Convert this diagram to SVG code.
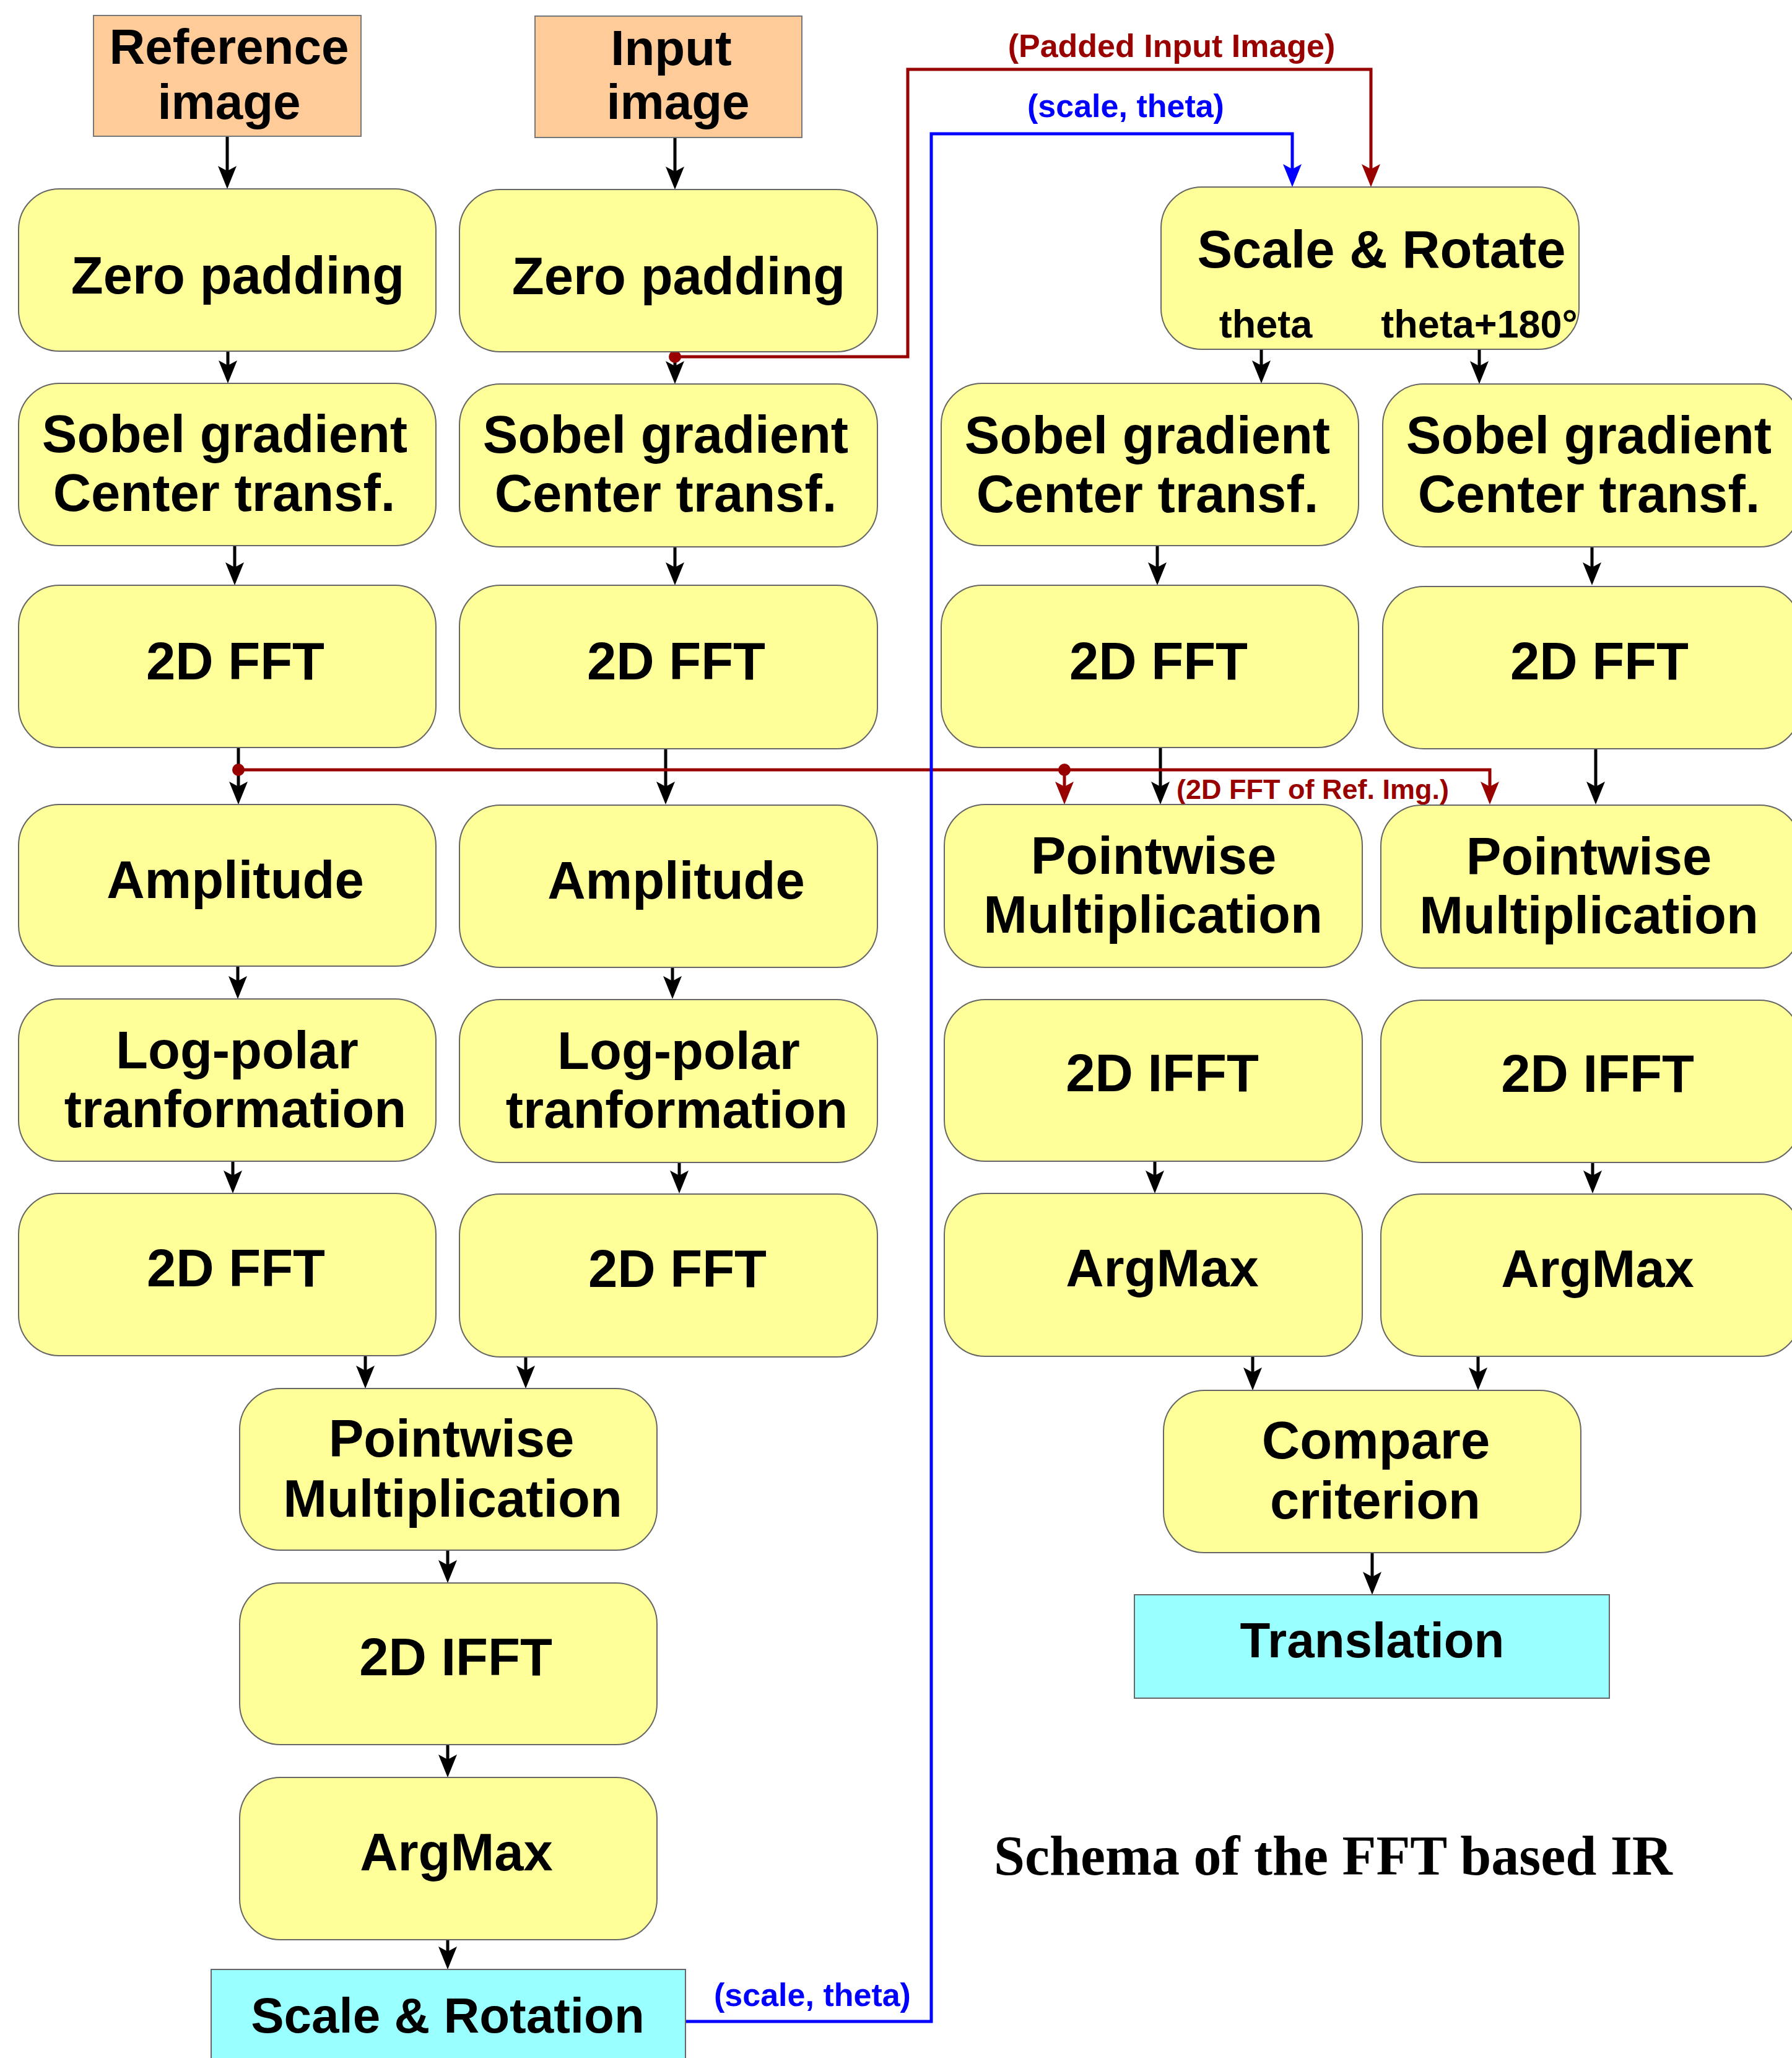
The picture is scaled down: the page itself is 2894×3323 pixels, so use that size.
<svg xmlns="http://www.w3.org/2000/svg" width="2894" height="3323" viewBox="0 0 2894 3323">
<defs>
<style>
.b{fill:#FFFF99;stroke:#666;stroke-width:2}
.o{fill:#FFCC99;stroke:#777;stroke-width:2}
.c{fill:#99FFFF;stroke:#666;stroke-width:2}
text{font-family:"Liberation Sans",Arial,sans-serif;font-weight:bold;text-anchor:middle;fill:#000}
.t{font-size:85px}
.s{font-size:80px}
.m{font-size:63px}
.lr{font-size:52px;fill:#990000}
.lb{font-size:52px;fill:#0000FF}
.lr2{font-size:45px;fill:#990000}
.title{font-family:"Liberation Serif","Times New Roman",serif;font-size:90px;text-anchor:start}
.k{stroke:#000;stroke-width:5;fill:none;marker-end:url(#ak)}
.ra{stroke:#990000;stroke-width:5;fill:none;marker-end:url(#ar)}
.bl{stroke:#0000FF;stroke-width:5;fill:none;marker-end:url(#ab)}
</style>
<marker id="ak" viewBox="0 0 38 30" markerWidth="38" markerHeight="30" refX="8" refY="15" orient="auto" markerUnits="userSpaceOnUse"><path d="M0,0 L37,15 L0,30 L8,15 Z" fill="#000"/></marker>
<marker id="ar" viewBox="0 0 38 30" markerWidth="38" markerHeight="30" refX="8" refY="15" orient="auto" markerUnits="userSpaceOnUse"><path d="M0,0 L37,15 L0,30 L8,15 Z" fill="#990000"/></marker>
<marker id="ab" viewBox="0 0 38 30" markerWidth="38" markerHeight="30" refX="8" refY="15" orient="auto" markerUnits="userSpaceOnUse"><path d="M0,0 L37,15 L0,30 L8,15 Z" fill="#0000FF"/></marker>
</defs>
<rect width="2894" height="3323" fill="#fff"/>

<g id="connectors">
<path class="k" d="M367,220 V276"/>
<path class="k" d="M1090,222 V277"/>
<path class="k" d="M368,567 V590"/>
<path class="k" d="M1090,568 V591"/>
<path class="k" d="M2037,564 V590"/>
<path class="k" d="M2389,564 V591"/>
<path class="k" d="M379,881 V916"/>
<path class="k" d="M1090,883 V916"/>
<path class="k" d="M1869,881 V916"/>
<path class="k" d="M2571,883 V916"/>
<path class="k" d="M385,1207 V1270"/>
<path class="k" d="M1075,1209 V1270"/>
<path class="k" d="M1874,1207 V1270"/>
<path class="k" d="M2577,1209 V1270"/>
<path class="k" d="M384,1560 V1584"/>
<path class="k" d="M1086,1562 V1584"/>
<path class="k" d="M376,1875 V1898"/>
<path class="k" d="M1097,1877 V1898"/>
<path class="k" d="M590,2189 V2213"/>
<path class="k" d="M849,2191 V2213"/>
<path class="k" d="M723,2503 V2527"/>
<path class="k" d="M723,2817 V2841"/>
<path class="k" d="M723,3132 V3151"/>
<path class="k" d="M1865,1875 V1898"/>
<path class="k" d="M2572,1877 V1898"/>
<path class="k" d="M2023,2190 V2216"/>
<path class="k" d="M2387,2190 V2216"/>
<path class="k" d="M2216,2507 V2546"/>
<path class="ra" d="M1090,576 H1466 V112 H2214 V273"/>
<circle cx="1090" cy="576" r="10" fill="#990000"/>
<path class="ra" d="M385,1243 H2406 V1270"/>
<path class="ra" d="M1719,1243 V1270"/>
<circle cx="385" cy="1243" r="10" fill="#990000"/>
<circle cx="1719" cy="1243" r="10" fill="#990000"/>
<path class="bl" d="M1107,3264 H1504 V216 H2087 V273"/>
<text class="lr" x="1892" y="92">(Padded Input Image)</text>
<text class="lb" x="1818" y="189">(scale, theta)</text>
<text class="lb" x="1312" y="3239">(scale, theta)</text>
<text class="lr2" x="2120" y="1290">(2D FFT of Ref. Img.)</text>
</g>

<g id="ref-image"><rect class="o" x="151" y="25" width="432" height="195"/><text class="s" x="370" y="103">Reference</text><text class="s" x="370" y="192">image</text></g>
<g id="input-image"><rect class="o" x="864" y="26" width="431" height="196"/><text class="s" x="1084" y="105">Input</text><text class="s" x="1095" y="192">image</text></g>

<g id="zp1"><rect class="b" x="30" y="305" width="674" height="262" rx="66"/><text class="t" x="384" y="474">Zero padding</text></g>
<g id="zp2"><rect class="b" x="742" y="306" width="675" height="262" rx="66"/><text class="t" x="1096" y="475">Zero padding</text></g>

<g id="sr"><rect class="b" x="1875" y="302" width="675" height="262" rx="66"/><text class="t" x="2231" y="432">Scale &amp; Rotate</text><text class="m" x="2044" y="545">theta</text><text class="m" x="2389" y="545">theta+180°</text></g>

<g id="sobel1"><rect class="b" x="30" y="619" width="674" height="262" rx="66"/><text class="t" x="363" y="730">Sobel gradient</text><text class="t" x="362" y="825">Center transf.</text></g>
<g id="sobel2"><rect class="b" x="742" y="620" width="675" height="263" rx="66"/><text class="t" x="1075" y="731">Sobel gradient</text><text class="t" x="1075" y="826">Center transf.</text></g>
<g id="sobel3"><rect class="b" x="1520" y="619" width="674" height="262" rx="66"/><text class="t" x="1853" y="732">Sobel gradient</text><text class="t" x="1853" y="827">Center transf.</text></g>
<g id="sobel4"><rect class="b" x="2233" y="620" width="675" height="263" rx="66"/><text class="t" x="2566" y="732">Sobel gradient</text><text class="t" x="2566" y="827">Center transf.</text></g>

<g id="fft1"><rect class="b" x="30" y="945" width="674" height="262" rx="66"/><text class="t" x="380" y="1097">2D FFT</text></g>
<g id="fft2"><rect class="b" x="742" y="945" width="675" height="264" rx="66"/><text class="t" x="1092" y="1097">2D FFT</text></g>
<g id="fft3"><rect class="b" x="1520" y="945" width="674" height="262" rx="66"/><text class="t" x="1871" y="1097">2D FFT</text></g>
<g id="fft4"><rect class="b" x="2233" y="947" width="675" height="262" rx="66"/><text class="t" x="2583" y="1097">2D FFT</text></g>

<g id="amp1"><rect class="b" x="30" y="1299" width="674" height="261" rx="66"/><text class="t" x="380" y="1450">Amplitude</text></g>
<g id="amp2"><rect class="b" x="742" y="1300" width="675" height="262" rx="66"/><text class="t" x="1092" y="1451">Amplitude</text></g>

<g id="pm3"><rect class="b" x="1525" y="1299" width="675" height="263" rx="66"/><text class="t" x="1863" y="1411">Pointwise</text><text class="t" x="1862" y="1506">Multiplication</text></g>
<g id="pm4"><rect class="b" x="2230" y="1300" width="678" height="263" rx="66"/><text class="t" x="2566" y="1412">Pointwise</text><text class="t" x="2566" y="1507">Multiplication</text></g>

<g id="log1"><rect class="b" x="30" y="1613" width="674" height="262" rx="66"/><text class="t" x="383" y="1725">Log-polar</text><text class="t" x="380" y="1820">tranformation</text></g>
<g id="log2"><rect class="b" x="742" y="1614" width="675" height="263" rx="66"/><text class="t" x="1096" y="1726">Log-polar</text><text class="t" x="1093" y="1821">tranformation</text></g>

<g id="ifft3"><rect class="b" x="1525" y="1614" width="675" height="261" rx="66"/><text class="t" x="1877" y="1762">2D IFFT</text></g>
<g id="ifft4"><rect class="b" x="2230" y="1615" width="678" height="262" rx="66"/><text class="t" x="2580" y="1763">2D IFFT</text></g>

<g id="fft2-1"><rect class="b" x="30" y="1927" width="674" height="262" rx="66"/><text class="t" x="381" y="2077">2D FFT</text></g>
<g id="fft2-2"><rect class="b" x="742" y="1928" width="675" height="263" rx="66"/><text class="t" x="1094" y="2078">2D FFT</text></g>

<g id="am3"><rect class="b" x="1525" y="1927" width="675" height="263" rx="66"/><text class="t" x="1877" y="2077">ArgMax</text></g>
<g id="am4"><rect class="b" x="2230" y="1928" width="678" height="262" rx="66"/><text class="t" x="2580" y="2078">ArgMax</text></g>

<g id="pm-left"><rect class="b" x="387" y="2242" width="674" height="261" rx="66"/><text class="t" x="729" y="2352">Pointwise</text><text class="t" x="731" y="2449">Multiplication</text></g>
<g id="compare"><rect class="b" x="1879" y="2245" width="674" height="262" rx="66"/><text class="t" x="2222" y="2355">Compare</text><text class="t" x="2221" y="2452">criterion</text></g>

<g id="ifft-left"><rect class="b" x="387" y="2556" width="674" height="261" rx="66"/><text class="t" x="736" y="2705">2D IFFT</text></g>
<g id="translation"><rect class="c" x="1832" y="2575" width="767" height="167"/><text class="s" x="2216" y="2676">Translation</text></g>

<g id="am-left"><rect class="b" x="387" y="2870" width="674" height="262" rx="66"/><text class="t" x="737" y="3020">ArgMax</text></g>
<g id="scale-rotation"><rect class="c" x="341" y="3180" width="766" height="160"/><text class="s" x="723" y="3282">Scale &amp; Rotation</text></g>

<text class="title" x="1605" y="3027">Schema of the FFT based IR</text>
</svg>
